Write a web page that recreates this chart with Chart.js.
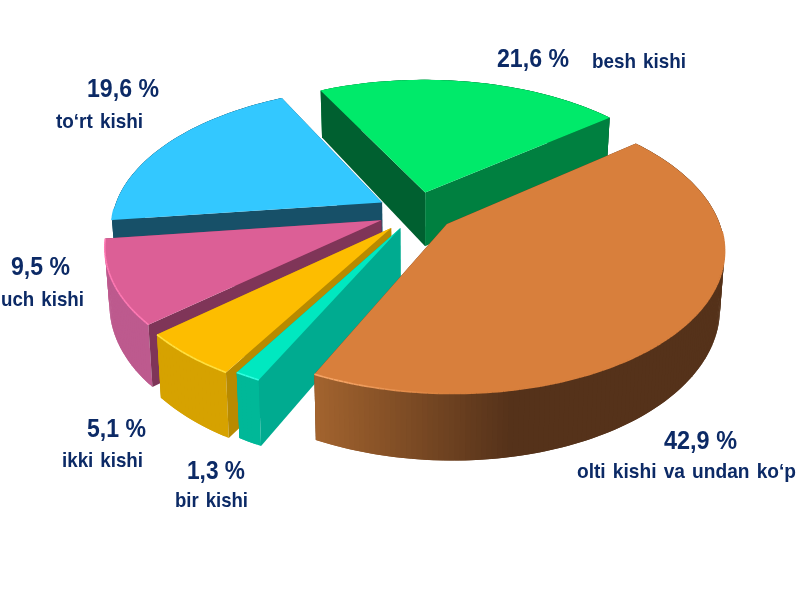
<!DOCTYPE html>
<html>
<head>
<meta charset="utf-8">
<style>
  html, body { margin: 0; padding: 0; background: #fff; }
  canvas { display: block; }
</style>
<script src="https://cdn.jsdelivr.net/npm/chart.js@4"></script>
</head>
<body>
<canvas id="pie" width="799" height="600"></canvas>
<script>
'use strict';

const categories = ['besh kishi', 'olti kishi va undan ko‘p', 'bir kishi', 'ikki kishi', 'uch kishi', 'to‘rt kishi'];
const shares = [21.6, 42.9, 1.3, 5.1, 9.5, 19.6];
const explode = [160, 150, 140, 160, 155, 160];

const faceColors = ['#00ea6a', '#d87f3c', '#00e8c0', '#fdbd00', '#dc5f96', '#33c8ff'];
const wallLightColors = ['#008a42', '#a5652f', '#00b898', '#d6a200', '#bd5a8e', '#175068'];
const wallDarkColors = ['#006030', '#55321a', '#00b090', '#b88a00', '#a94a7c', '#175068'];
const startWallColors = ['#006030', '#55321a', '#00ab90', '#b88a00', '#7f3558', '#175068'];
const endWallColors = ['#008040', '#55321a', '#00ab90', '#b88a00', '#7f3558', '#175068'];
const rimColors = ['#00ea6a', '#f6a566', '#30ffe0', '#ffe040', '#ff7ab4', '#33c8ff'];

// back to front
const paintOrder = [0, 5, 4, 3, 2, 1];

// [percent x, baseline, right end, name x, baseline, right end]
const labelPlaces = [
  [497, 67, 569, 592, 68, 686],
  [664, 449, 737, 577, 478, 796],
  [187, 479, 245, 175, 507, 248],
  [87, 437, 146, 62, 467, 143],
  [11, 275, 70, 1, 306, 84],
  [87, 97, 159, 56, 128, 143],
];

const SQUASH = 0.51;
const PERSPECTIVE = 0.165;
const DEPTH = 55;
const BASE_SHRINK = 0.985;

function hexToRgb(hex) {
  const n = parseInt(hex.slice(1), 16);
  return [n >> 16, (n >> 8) & 255, n & 255];
}

function mix(a, b, t) {
  const ca = hexToRgb(a);
  const cb = hexToRgb(b);
  return `rgb(${ca.map((c, i) => Math.round(c + (cb[i] - c) * t)).join(',')})`;
}

// plane point of the flat pie -> picture point, top or base of the slab
function project(arc, dx, dy, low) {
  const s = 1 / (1 - PERSPECTIVE * dy / arc.outerRadius);
  const x = arc.x + dx * s;
  const y = arc.y + dy * SQUASH * s;
  if (!low) return [x, y];
  return [arc.x + (x - arc.x) * BASE_SHRINK, y + DEPTH * s];
}

function poly(ctx, pts, color) {
  ctx.beginPath();
  pts.forEach((p, i) => (i ? ctx.lineTo(p[0], p[1]) : ctx.moveTo(p[0], p[1])));
  ctx.closePath();
  ctx.fillStyle = color;
  ctx.fill();
}

function drawSlice(ctx, element, i) {
  const arc = element.getProps(['x', 'y', 'startAngle', 'endAngle', 'outerRadius'], true);
  const mid = (arc.startAngle + arc.endAngle) / 2;
  const push = element.options.offset / 4;
  const ox = Math.cos(mid) * push;
  const oy = Math.sin(mid) * push;
  const r = arc.outerRadius;
  const steps = Math.max(4, Math.round((arc.endAngle - arc.startAngle) * 60));

  const rim = [];
  for (let k = 0; k <= steps; k++) {
    const a = arc.startAngle + (arc.endAngle - arc.startAngle) * k / steps;
    rim.push({ a, dx: ox + r * Math.cos(a), dy: oy + r * Math.sin(a) });
  }

  const radialWall = (p, color) => poly(ctx, [
    project(arc, ox, oy, false),
    project(arc, p.dx, p.dy, false),
    project(arc, p.dx, p.dy, true),
    project(arc, ox, oy, true),
  ], color);
  const startFront = Math.sin(arc.startAngle - Math.PI / 2) > 0;
  const endFront = Math.sin(arc.endAngle + Math.PI / 2) > 0;

  if (!startFront) radialWall(rim[0], startWallColors[i]);
  if (!endFront) radialWall(rim[steps], endWallColors[i]);

  // outer wall, shaded by the way it faces; each piece overlaps the next
  for (let k = steps - 1; k >= 0; k--) {
    const p = rim[k];
    const q = rim[Math.min(k + 2, steps)];
    const t = Math.min(1, Math.max(0, (-Math.cos(p.a) + 0.2) / 0.62));
    poly(ctx, [
      project(arc, p.dx, p.dy, false),
      project(arc, q.dx, q.dy, false),
      project(arc, q.dx, q.dy, true),
      project(arc, p.dx, p.dy, true),
    ], mix(wallDarkColors[i], wallLightColors[i], t));
  }

  if (startFront) radialWall(rim[0], startWallColors[i]);
  if (endFront) radialWall(rim[steps], endWallColors[i]);

  // top face
  poly(ctx, [project(arc, ox, oy, false)].concat(rim.map(p => project(arc, p.dx, p.dy, false))), element.options.backgroundColor);

  // soft bevel along the front rim
  ctx.lineWidth = 1.6;
  for (let k = 0; k < steps; k++) {
    const p = rim[k];
    const q = rim[k + 1];
    if (Math.sin(p.a) < 0.05) continue;
    const t = Math.min(1, Math.max(0, -Math.cos(p.a) / 0.35));
    const a = project(arc, p.dx, p.dy, false);
    const b = project(arc, q.dx, q.dy, false);
    ctx.beginPath();
    ctx.moveTo(a[0], a[1]);
    ctx.lineTo(b[0], b[1]);
    ctx.strokeStyle = mix(faceColors[i], rimColors[i], t);
    ctx.stroke();
  }
}

const slabPlugin = {
  id: 'slab',
  beforeDatasetDraw(chart, args) {
    const arcs = chart.getDatasetMeta(args.index).data;
    paintOrder.forEach(i => drawSlice(chart.ctx, arcs[i], i));
    return false;
  },
  afterDraw(chart) {
    const ctx = chart.ctx;
    ctx.save();
    ctx.fillStyle = '#0c2a66';
    ctx.textAlign = 'left';
    ctx.textBaseline = 'alphabetic';
    shares.forEach((v, i) => {
      const place = labelPlaces[i];
      ctx.font = 'bold 25px "Liberation Sans", Arial, sans-serif';
      ctx.wordSpacing = '0px';
      ctx.fillText(`${v.toFixed(1).replace('.', ',')} %`, place[0], place[1], place[2] - place[0]);
      ctx.font = 'bold 20.5px "Liberation Sans", Arial, sans-serif';
      ctx.wordSpacing = '2px';
      ctx.fillText(categories[i], place[3], place[4], place[5] - place[3]);
    });
    ctx.restore();
  },
};

new Chart(document.getElementById('pie').getContext('2d'), {
  type: 'pie',
  plugins: [slabPlugin],
  data: {
    labels: categories,
    datasets: [{
      data: shares,
      backgroundColor: faceColors,
      borderWidth: 0,
      offset: explode,
    }],
  },
  options: {
    responsive: false,
    animation: false,
    rotation: -26.8,
    radius: 269,
    layout: { padding: { left: 35, bottom: 176 } },
    plugins: { legend: { display: false }, tooltip: { enabled: false } },
  },
});
</script>
</body>
</html>
